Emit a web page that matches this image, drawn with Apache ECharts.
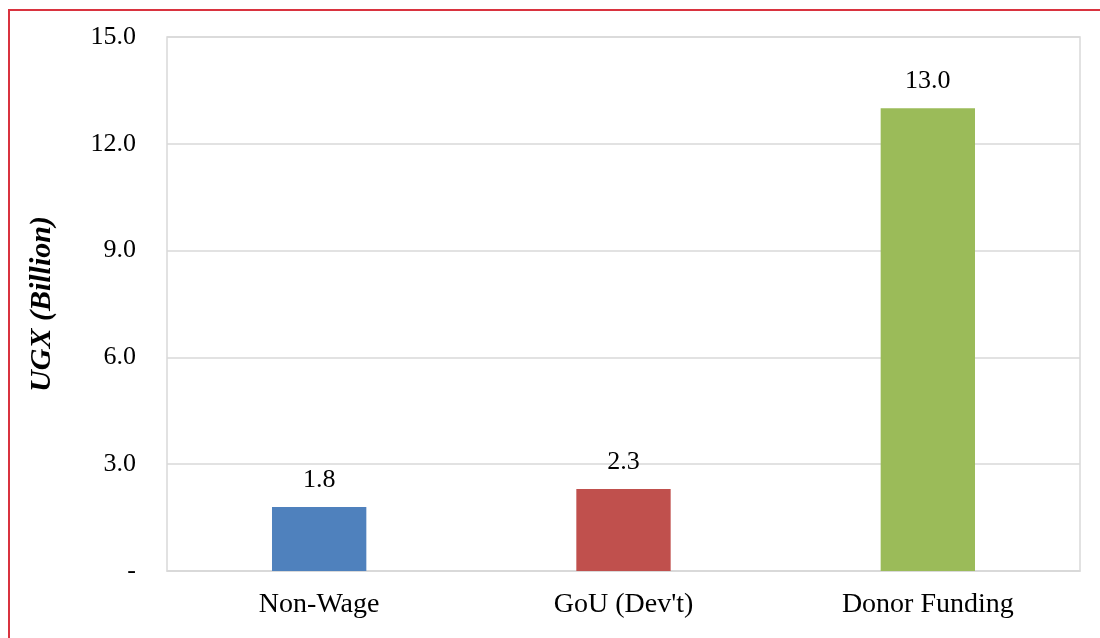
<!DOCTYPE html>
<html><head><meta charset="utf-8">
<script src="https://cdn.jsdelivr.net/npm/echarts@6/dist/echarts.min.js"></script>
<style>html,body{margin:0;padding:0;background:#fff}#c{width:1100px;height:638px}</style>
</head><body><div id="c"></div>
<script>
const categories = ["Non-Wage", "GoU (Dev't)", "Donor Funding"];
const values = [1.8, 2.3, 13.0];
const barColors = ["#4f81bd", "#c0504d", "#9bbb59"];
const yTicks = [0, 3, 6, 9, 12, 15];

const chart = echarts.init(document.getElementById('c'));
chart.setOption({
  animation: false,
  graphic: [{
    type: 'rect', silent: true, z: 100,
    shape: { x: 9, y: 10, width: 1110, height: 650 },
    style: { fill: 'none', stroke: '#d9333f', lineWidth: 2 }
  }, {
    type: 'rect', silent: true, z: 0,
    shape: { x: 167, y: 37, width: 913, height: 534 },
    style: { fill: 'none', stroke: '#d9d9d9', lineWidth: 1.5 }
  }],
  grid: { left: 167, top: 37, right: 20, bottom: 67, containLabel: false },
  xAxis: {
    type: 'category', data: categories,
    axisLine: { show: true, lineStyle: { color: '#d9d9d9', width: 1.5 } },
    axisTick: { show: false },
    axisLabel: { fontFamily: 'Liberation Serif', fontSize: 28, color: '#000', margin: 20 }
  },
  yAxis: {
    type: 'value', min: 0, max: 15, interval: 3,
    name: 'UGX (Billion)', nameLocation: 'middle', nameGap: 110,
    nameTextStyle: { fontFamily: 'Liberation Serif', fontSize: 30, fontStyle: 'italic', fontWeight: 'bold', color: '#000' },
    axisLine: { show: false }, axisTick: { show: false },
    splitLine: { lineStyle: { color: '#d9d9d9', width: 1.5 } },
    axisLabel: {
      fontFamily: 'Liberation Serif', fontSize: 26, color: '#000', margin: 31,
      formatter: v => yTicks.includes(v) ? (v === 0 ? '-' : v.toFixed(1)) : ''
    }
  },
  series: [{
    type: 'bar', barWidth: '31%',
    data: values.map((v, i) => ({ value: v, itemStyle: { color: barColors[i] } })),
    label: {
      show: true, position: 'top', distance: 14,
      fontFamily: 'Liberation Serif', fontSize: 26, color: '#000',
      formatter: p => p.value.toFixed(1)
    }
  }]
});
</script></body></html>
